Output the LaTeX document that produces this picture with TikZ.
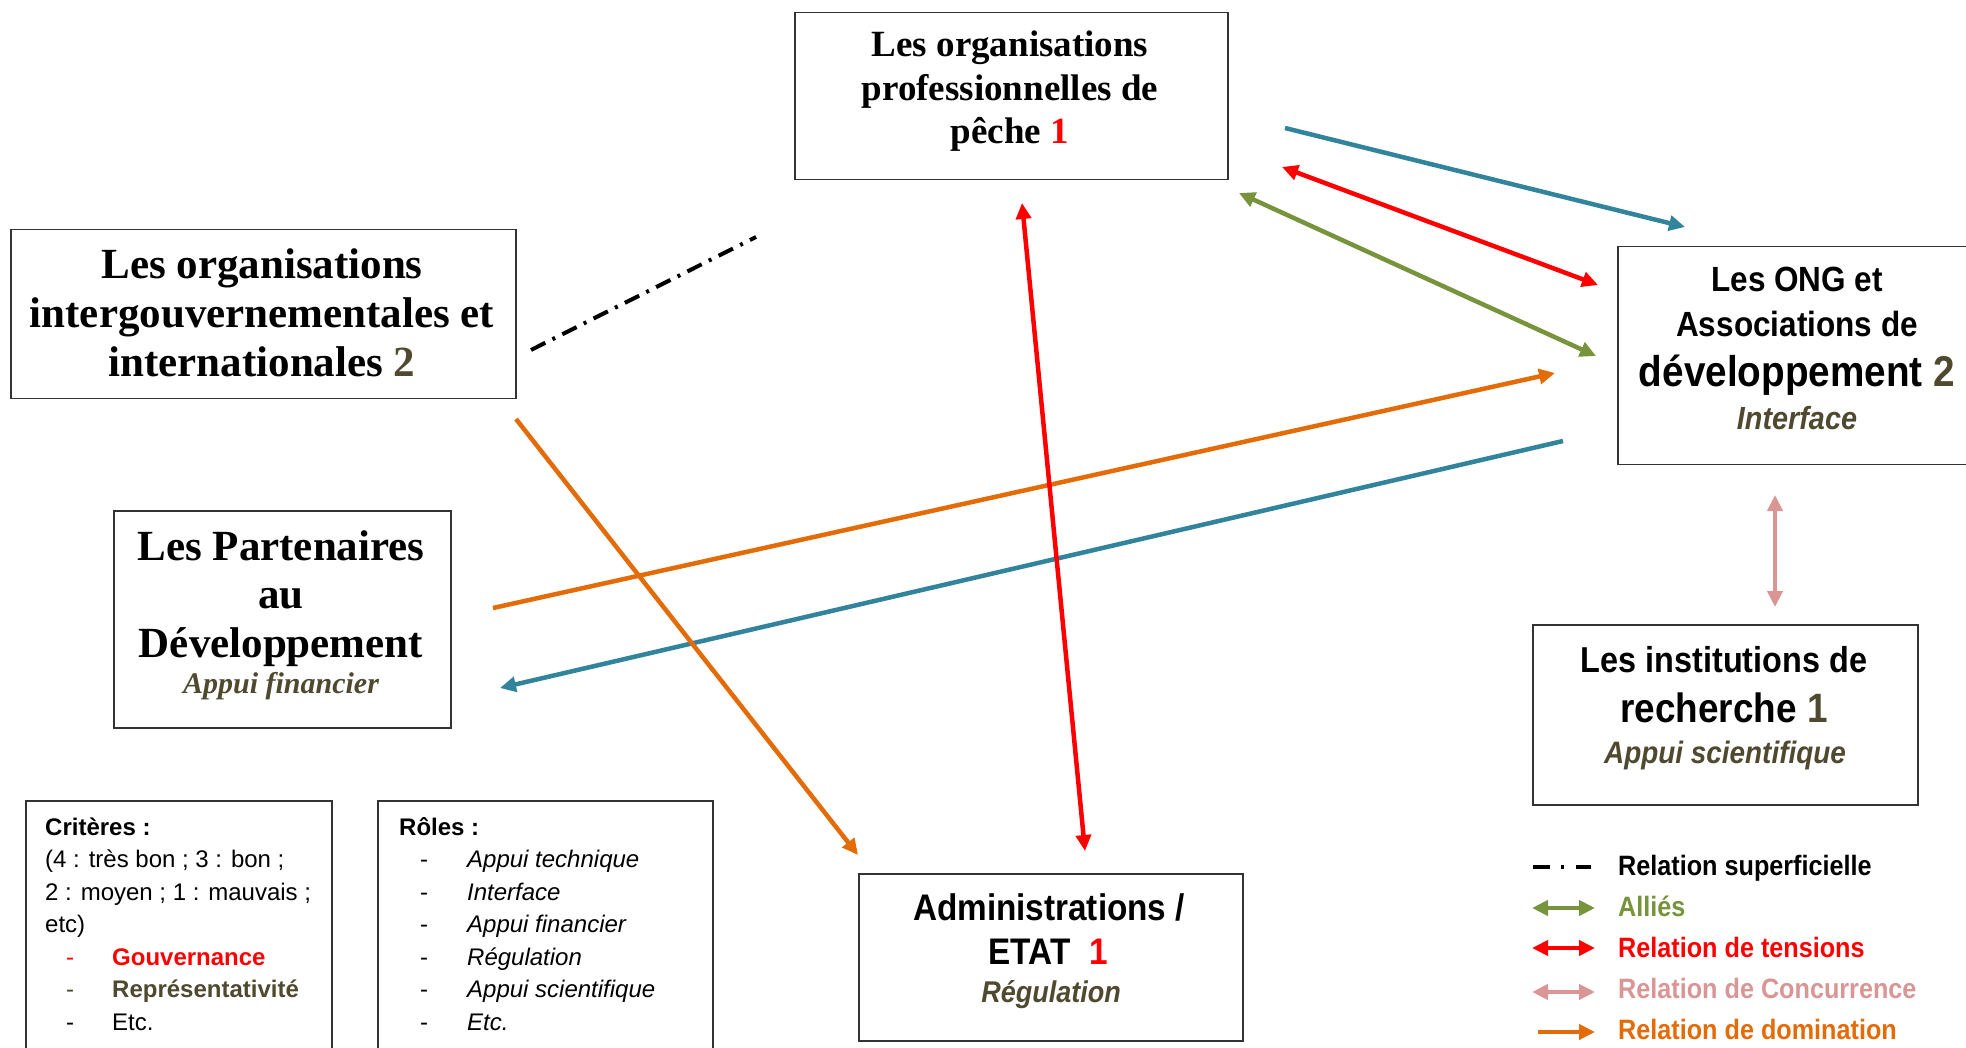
\documentclass[tikz,border=0pt]{standalone}
\usepackage{fontspec}
\setmainfont{Liberation Serif}
\newfontfamily\sansfnt[FakeStretch=0.9]{Liberation Sans}
\newfontfamily\plainsans{Liberation Sans}
\usetikzlibrary{arrows.meta}
\definecolor{olivetxt}{HTML}{4F4A2F}
\definecolor{tealc}{HTML}{31849B}
\definecolor{greenc}{HTML}{77933C}
\definecolor{orangec}{HTML}{E36C09}
\definecolor{pinkc}{HTML}{D99694}
\definecolor{redc}{HTML}{FF0000}
\definecolor{boxgray}{HTML}{333333}
\begin{document}
\begin{tikzpicture}[x=1pt,y=-1pt,
  box/.style={draw=boxgray,line width=1.5pt,inner sep=0pt,anchor=north west},
  tb/.style={anchor=base,inner sep=0pt},
  tl/.style={anchor=base west,inner sep=0pt},
  serA/.style={tb,font=\fontsize{37}{44}\selectfont\bfseries},
  serB/.style={tb,font=\fontsize{43}{49}\selectfont\bfseries},
  serI/.style={tb,font=\fontsize{30}{36}\selectfont\bfseries\itshape,text=olivetxt},
  sanA/.style={tb,font=\sansfnt\fontsize{35}{40}\selectfont\bfseries},
  sanI/.style={tb,font=\sansfnt\fontsize{32}{36}\selectfont\bfseries\itshape,text=olivetxt},
  leg/.style={tl,font=\sansfnt\fontsize{28}{32}\selectfont\bfseries},
  crit/.style={tl,font=\plainsans\fontsize{24}{30}\selectfont},
  con/.style={line width=4.5pt},
  lcon/.style={line width=4.5pt},
  tip/.tip={Triangle[length=16pt,width=15pt]},
  ltip/.tip={Triangle[length=16pt,width=15pt]}
]
\fill[white] (0,0) rectangle (1966,1048);
\useasboundingbox (0,0) rectangle (1966,1048);

% ---------- boxes ----------
\node[box,minimum width=433pt,minimum height=167pt] (peche) at (794,12) {};
\node[box,minimum width=505pt,minimum height=169pt] (igo) at (10,229) {};
\node[box,minimum width=337pt,minimum height=217pt] (ptf) at (113,510) {};
\node[box,minimum width=360pt,minimum height=218pt] (ong) at (1617,246) {};
\node[box,minimum width=385pt,minimum height=180pt] (rech) at (1532,624) {};
\node[box,minimum width=384pt,minimum height=167pt] (adm) at (858,873) {};
\node[box,minimum width=306pt,minimum height=300pt] (critbox) at (25,800) {};
\node[box,minimum width=335pt,minimum height=300pt] (rolebox) at (377,800) {};

% ---------- box texts ----------
\node[serA] (p1) at (1010,57) {Les organisations};
\node[serA] (p2) at (1010,101) {professionnelles de};
\node[serA] (p3) at (1010,144) {pêche {\color{redc}1}};

\node[serB] (i1) at (262,279) {Les organisations};
\node[serB] (i2) at (262,328) {intergouvernementales et};
\node[serB] (i3) at (262,377) {internationales {\color{olivetxt}2}};

\node[serB] (f1) at (281,560) {Les Partenaires};
\node[serB] (f2) at (281,608) {au};
\node[serB] (f3) at (281,657) {Développement};
\node[serI] (f4) at (281,693) {Appui financier};

\node[sanA] (o1) at (1797,292) {Les ONG et};
\node[sanA] (o2) at (1797,337) {Associations de};
\node[sanA,font=\sansfnt\fontsize{43}{48}\selectfont\bfseries] (o3) at (1797,387) {développement {\color{olivetxt}2}};
\node[sanI] (o4) at (1797,430) {Interface};

\node[sanA,font=\sansfnt\fontsize{36}{40}\selectfont\bfseries] (r1) at (1724,672) {Les institutions de};
\node[sanA,font=\sansfnt\fontsize{41}{46}\selectfont\bfseries] (r2) at (1724,722) {recherche {\color{olivetxt}1}};
\node[sanI,font=\sansfnt\fontsize{31}{36}\selectfont\bfseries\itshape] (r3) at (1725,763) {Appui scientifique};

\node[sanA,font=\sansfnt\fontsize{37}{42}\selectfont\bfseries] (a1) at (1049,920) {Administrations /};
\node[sanA,font=\sansfnt\fontsize{37}{42}\selectfont\bfseries] (a2) at (1048,964) {ETAT\ \ {\color{redc}1}};
\node[sanI,font=\sansfnt\fontsize{30}{34}\selectfont\bfseries\itshape] (a3) at (1051,1002) {Régulation};

% ---------- criteria ----------
\node[crit,font=\plainsans\fontsize{24}{30}\selectfont\bfseries] (c1) at (45,835) {Critères :};
\node[crit] (c2) at (45,867.5) {(4 : très bon ; 3 : bon ;};
\node[crit] (c3) at (45,900) {2 : moyen ; 1 : mauvais ;};
\node[crit] (c4) at (45,932.5) {etc)};
\node[crit,text=redc] (c5d) at (66,965) {-};
\node[crit,text=redc,font=\plainsans\fontsize{24}{30}\selectfont\bfseries] (c5) at (112,965) {Gouvernance};
\node[crit,text=olivetxt] (c6d) at (66,997.5) {-};
\node[crit,text=olivetxt,font=\plainsans\fontsize{24}{30}\selectfont\bfseries] (c6) at (112,997.5) {Représentativité};
\node[crit] (c7d) at (66,1030) {-};
\node[crit] (c7) at (112,1030) {Etc.};

\node[crit,font=\plainsans\fontsize{24}{30}\selectfont\bfseries] (ro0) at (399,835) {Rôles :};
\foreach \t [count=\k] in {Appui technique,Interface,Appui financier,Régulation,Appui scientifique,Etc.}{
  \node[crit] (rd\k) at (420,835+32.5*\k) {-};
  \node[crit,font=\plainsans\fontsize{24}{30}\selectfont\itshape] (ro\k) at (467,835+32.5*\k) {\t};
}

% ---------- connectors ----------
\coordinate (dsA) at (531,350); \coordinate (dsB) at (756,237);
\draw[line width=4pt,dash pattern=on 16pt off 8pt on 3pt off 8pt] (dsA) -- (dsB);

\coordinate (t1A) at (1285,128); \coordinate (t1B) at (1685,227);
\draw[con,tealc,-tip] (t1A) -- (t1B);

\coordinate (r1A) at (1282,167); \coordinate (r1B) at (1598,285);
\draw[con,redc,tip-tip] (r1A) -- (r1B);

\coordinate (g1A) at (1239,193); \coordinate (g1B) at (1596,356);
\draw[con,greenc,tip-tip] (g1A) -- (g1B);

\coordinate (o1A) at (493,608); \coordinate (o1B) at (1555,373);
\draw[con,orangec,-tip] (o1A) -- (o1B);

\coordinate (t2A) at (1563,441); \coordinate (t2B) at (500,688);
\draw[con,tealc,-tip] (t2A) -- (t2B);

\coordinate (o2A) at (516,419); \coordinate (o2B) at (858,855);
\draw[con,orangec,-tip] (o2A) -- (o2B);

\coordinate (r2A) at (1022,203); \coordinate (r2B) at (1085,851);
\draw[con,redc,tip-tip] (r2A) -- (r2B);

\coordinate (pkA) at (1775,495); \coordinate (pkB) at (1775,607);
\draw[con,pinkc,tip-tip] (pkA) -- (pkB);

% ---------- legend ----------
\coordinate (l1A) at (1533,867); \coordinate (l1B) at (1591,867);
\draw[line width=4pt,dash pattern=on 17pt off 11pt on 3pt off 12pt] (l1A) -- (l1B);
\coordinate (l2A) at (1532,908); \coordinate (l2B) at (1595,908);
\draw[lcon,greenc,ltip-ltip] (l2A) -- (l2B);
\coordinate (l3A) at (1532,948); \coordinate (l3B) at (1595,948);
\draw[lcon,redc,ltip-ltip] (l3A) -- (l3B);
\coordinate (l4A) at (1532,992); \coordinate (l4B) at (1595,992);
\draw[lcon,pinkc,ltip-ltip] (l4A) -- (l4B);
\coordinate (l5A) at (1538,1032); \coordinate (l5B) at (1595,1032);
\draw[lcon,orangec,-ltip] (l5A) -- (l5B);

\node[leg] (lg1) at (1618,875) {Relation superficielle};
\node[leg,text=greenc] (lg2) at (1618,916) {Alliés};
\node[leg,text=redc] (lg3) at (1618,957) {Relation de tensions};
\node[leg,text=pinkc] (lg4) at (1618,998) {Relation de Concurrence};
\node[leg,text=orangec] (lg5) at (1618,1039) {Relation de domination};
\end{tikzpicture}
\end{document}
